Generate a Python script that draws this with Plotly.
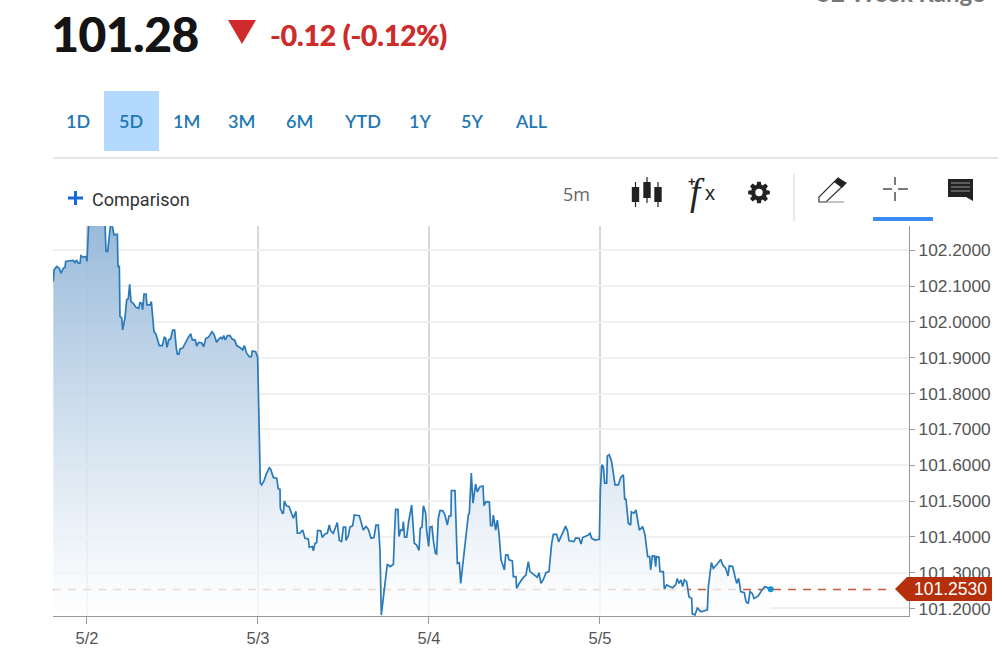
import math
import plotly.graph_objects as go

# Hours since the 5/2 tick, and prices
hours_d1 = [-4.73,-4.63,-4.26,-3.88,-3.65,-3.32,-3.09,-2.99,-2.39,-1.92,-1.68,-1.45,-1.22,-0.98,-0.84,-0.51,-0.14,0.0,0.23,0.3,1.5,2.4,2.53,2.67,2.90,3.13,3.32,3.56,3.79,4.26,4.35,4.54,4.63,4.87,5.01,5.33,5.57,5.80,5.99,6.18,6.50,6.88,7.25,7.44,7.67,7.81,8.00,8.28,8.42,8.84,9.03,9.22,9.40,9.68,10.15,10.57,10.85,11.04,11.23,11.46,11.74,12.02,12.30,12.54,12.68,12.91,13.05,13.43,13.75,14.22,14.55,14.78,15.20,15.39,15.67,16.09,16.37,16.65,17.12,17.54,17.82,18.20,18.43,18.76,18.99,19.18,19.42,19.70,20.07,20.40,20.72,21.01,21.47,21.85,22.08,22.41,22.78,23.06,23.20,23.67,23.95]
price_d1 = [102.113,102.145,102.155,102.150,102.136,102.150,102.152,102.169,102.171,102.172,102.166,102.173,102.164,102.164,102.185,102.181,102.183,102.169,102.271,102.30,102.33,102.31,102.275,102.197,102.197,102.234,102.275,102.267,102.243,102.245,102.155,102.155,102.015,102.012,101.978,102.011,102.062,102.065,102.105,102.057,102.052,102.041,102.038,102.054,102.052,102.034,102.078,102.078,102.048,102.048,102.057,102.015,101.973,101.966,101.934,101.934,101.957,101.955,101.929,101.950,101.953,101.977,101.977,101.927,101.910,101.910,101.925,101.927,101.941,101.957,101.967,101.950,101.950,101.933,101.943,101.942,101.931,101.953,101.959,101.973,101.966,101.943,101.950,101.957,101.953,101.962,101.950,101.962,101.962,101.952,101.950,101.934,101.929,101.922,101.934,101.913,101.903,101.903,101.919,101.917,101.901]

hours_d2 = [24.19,24.33,24.51,24.84,25.12,25.59,25.78,26.15,26.62,26.85,27.09,27.13,27.42,27.56,27.70,28.02,28.35,28.73,28.96,29.33,29.52,29.89,30.27,30.60,31.06,31.20,31.63,31.77,32.00,32.23,32.37,32.80,33.03,33.40,33.73,34.01,34.20,34.57,34.81,35.13,35.42,35.74,35.98,36.30,36.35,36.68,36.91,37.29,37.52,38.22,38.78,39.16,39.49,39.86,40.28,40.56,40.89,41.12,41.31,41.54,41.82,42.15,42.53,43.00,43.14,43.32,43.65,43.79,44.02,44.30,44.40,44.58,44.87,45.15,45.57,45.94,46.27,46.60,46.78,47.02,47.21,47.53,47.67,47.95]
price_d2 = [101.643,101.550,101.545,101.556,101.573,101.593,101.589,101.566,101.564,101.534,101.533,101.480,101.466,101.466,101.500,101.486,101.485,101.461,101.452,101.471,101.410,101.410,101.419,101.396,101.394,101.371,101.373,101.361,101.382,101.384,101.418,101.417,101.398,101.408,101.410,101.433,101.417,101.410,101.424,101.440,101.390,101.387,101.427,101.427,101.390,101.403,101.427,101.431,101.461,101.459,101.419,101.429,101.421,101.396,101.398,101.433,101.433,101.364,101.182,101.219,101.270,101.324,101.317,101.323,101.399,101.477,101.477,101.401,101.419,101.419,101.443,101.399,101.399,101.443,101.489,101.382,101.377,101.362,101.424,101.427,101.487,101.466,101.419,101.373]

hours_d3 = [48.14,48.42,48.61,48.89,49.07,49.31,49.54,49.92,50.25,50.57,50.81,51.09,51.14,51.65,51.98,52.26,52.45,52.82,53.01,53.52,53.66,53.94,54.17,54.55,54.78,55.16,55.58,55.72,56.00,56.47,56.65,56.89,57.03,57.36,57.59,57.82,58.11,58.58,58.77,59.05,59.23,59.70,59.84,60.21,60.30,60.63,61.15,61.61,61.94,62.18,62.64,63.20,63.44,63.72,64.05,64.42,64.84,64.98,65.22,65.45,65.92,66.20,66.62,66.95,67.18,67.46,67.65,68.35,68.59,69.06,69.34,69.57,70.37,70.60,70.83,71.30,71.91]
price_d3 = [101.427,101.429,101.391,101.354,101.352,101.452,101.473,101.473,101.461,101.433,101.458,101.459,101.529,101.529,101.326,101.328,101.270,101.336,101.364,101.461,101.466,101.578,101.494,101.547,101.526,101.540,101.542,101.487,101.498,101.497,101.431,101.431,101.461,101.419,101.447,101.410,101.336,101.308,101.350,101.350,101.336,101.333,101.289,101.289,101.256,101.269,101.284,101.294,101.331,101.303,101.296,101.287,101.300,101.270,101.281,101.300,101.303,101.340,101.382,101.407,101.407,101.386,101.405,101.417,101.430,101.415,101.389,101.387,101.397,101.396,101.380,101.398,101.405,101.410,101.396,101.391,101.393]

hours_d4 = [72.05,72.25,72.47,72.66,72.94,73.03,73.31,73.64,74.11,74.58,74.90,75.28,75.47,75.65,75.98,76.30,76.40,76.77,77.05,77.33,77.52,77.99,78.32,78.69,78.97,79.11,79.35,79.63,79.82,79.91,80.28,80.42,80.89,81.03,81.36,81.83,82.20,82.62,82.85,83.09,83.37,83.60,83.84,84.16,84.49,84.87,84.96,85.33,85.66,86.18,86.74,87.07,87.21,87.44,87.63,87.91,88.38,88.94,89.22,89.64,89.97,90.15,90.62,90.95,91.19,91.47,91.75,92.26,92.50,92.82,93.05,93.38,93.62,94.22,94.69,95.16,95.96]
price_d4 = [101.531,101.601,101.596,101.550,101.550,101.626,101.629,101.610,101.545,101.545,101.566,101.573,101.505,101.505,101.438,101.433,101.470,101.466,101.475,101.447,101.419,101.429,101.405,101.345,101.345,101.308,101.347,101.347,101.317,101.345,101.343,101.303,101.303,101.254,101.266,101.261,101.258,101.266,101.284,101.270,101.280,101.261,101.280,101.275,101.233,101.228,101.185,101.182,101.201,101.191,101.194,101.196,101.261,101.291,101.328,101.312,101.322,101.337,101.322,101.312,101.291,101.319,101.317,101.289,101.270,101.284,101.247,101.244,101.219,101.214,101.247,101.242,101.228,101.235,101.250,101.261,101.254]

hours = hours_d1 + hours_d2 + hours_d3 + hours_d4
prices = price_d1 + price_d2 + price_d3 + price_d4

tick_hours = [0, 24, 48, 72]
tick_labels = ["5/2", "5/3", "5/4", "5/5"]
y_ticks = [101.2, 101.3, 101.4, 101.5, 101.6, 101.7, 101.8, 101.9, 102.0, 102.1, 102.2]
last_close = 101.253
x_range = [-4.77, 115.37]
y_range = [101.179, 102.268]
guide_end_hour = 113.1

range_labels = ["1D", "5D", "1M", "3M", "6M", "YTD", "1Y", "5Y", "ALL"]
range_centers = [78, 131, 186, 241, 299, 362, 420, 472, 531]

L, R, T, B = 53, 909, 226, 616
def px(x): return (x - L) / (R - L)
def py(y): return (B - y) / (B - T)

fig = go.Figure()
fig.add_trace(go.Scatter(x=[x_range[0], guide_end_hour], y=[last_close, last_close], mode="lines",
                         line=dict(color="#c9583d", width=1.7, dash="8px,7px"), hoverinfo="skip", showlegend=False))
fig.add_trace(go.Scatter(x=hours, y=prices, mode="lines", fill="tozeroy",
                         line=dict(color="#2a7ab9", width=1.7),
                         fillgradient=dict(type="vertical", start=y_range[0], stop=y_range[1],
                                           colorscale=[[0, "rgba(255,255,255,0.78)"], [1, "rgba(150,184,217,0.97)"]]),
                         showlegend=False))
fig.add_trace(go.Scatter(x=[hours[-1]], y=[prices[-1]], mode="markers",
                         marker=dict(color="#1793d1", size=6), showlegend=False))

shapes = []
def rect(x0, y0, x1, y1, color):
    shapes.append(dict(type="rect", xref="paper", yref="paper", x0=px(x0), x1=px(x1), y0=py(y0), y1=py(y1),
                       fillcolor=color, line=dict(width=0), layer="above"))
def seg(x0, y0, x1, y1, color, width=1.0):
    shapes.append(dict(type="line", xref="paper", yref="paper", x0=px(x0), x1=px(x1), y0=py(y0), y1=py(y1),
                       line=dict(color=color, width=width), layer="above"))
def poly(points, fill=None, line=None, width=1.0):
    d = "M " + " L ".join(f"{px(a):.5f},{py(b):.5f}" for a, b in points) + " Z"
    shapes.append(dict(type="path", xref="paper", yref="paper", path=d,
                       fillcolor=fill if fill else "rgba(0,0,0,0)",
                       line=dict(color=line if line else "rgba(0,0,0,0)", width=width if line else 0), layer="above"))

rect(104, 91, 159, 151, "#b3d9ff")
seg(53, 158, 998, 158, "#dddddd", 1.5)
poly([(228, 20), (256, 20), (242, 44)], fill="#cf2b2b")
seg(68, 198, 83, 198, "#1a66d9", 3)
seg(75.5, 191, 75.5, 205, "#1a66d9", 3)
for cx, top, bt, wt, wb in [(635.5, 187, 202, 182, 207), (647, 182, 198, 177, 203), (658, 187, 202, 182, 207)]:
    seg(cx, wt, cx, wb, "#222222", 1.2)
    rect(cx - 3.7, top, cx + 3.7, bt, "#222222")
seg(794, 174, 794, 221, "#dddddd", 1.2)
poly([(819, 202), (819, 197), (838, 178), (846, 183), (826, 202)], line="#333333", width=1.2)
poly([(838, 178), (846, 183), (842, 188), (834, 182)], fill="#222222")
seg(826, 202, 844, 202, "#999999", 1.2)
for a in [(883, 189, 892, 189), (898, 189, 908, 189), (895, 177, 895, 185), (895, 192, 895, 201)]:
    seg(*a, "#333333", 1.3)
rect(873, 217, 933, 221, "#3b8cf2")
poly([(948, 179), (973, 179), (973, 201), (966, 197), (948, 197)], fill="#222222")
for yy in [183, 187, 191]:
    seg(951, yy, 970, yy, "#999999", 1)
poly([(895, 589), (907, 577), (992, 577), (992, 601), (907, 601)], fill="#b52f0b")

# settings cog
gcx, gcy = 759, 192.5
cog = []
for k in range(8):
    a = k * math.pi / 4
    for off, r in [(-0.30, 8.0), (-0.17, 11.0), (0.17, 11.0), (0.30, 8.0)]:
        cog.append((gcx + r * math.cos(a + off), gcy + r * math.sin(a + off)))
poly(cog, fill="#222222")
shapes.append(dict(type="circle", xref="paper", yref="paper", x0=px(gcx - 3.7), x1=px(gcx + 3.7),
                   y0=py(gcy + 3.7), y1=py(gcy - 3.7), fillcolor="white", line=dict(width=0), layer="above"))

def label(text, x, y, size, color, family="Lato", anchor="left", weight=None, style=None, shadow=None):
    f = dict(family=family, size=size, color=color)
    if weight: f["weight"] = weight
    if style: f["style"] = style
    if shadow: f["shadow"] = shadow
    fig.add_annotation(text=text, xref="paper", yref="paper", x=px(x), y=py(y), showarrow=False,
                       xanchor=anchor, yanchor="middle", font=f, borderpad=0, borderwidth=0)

label("101.28", 51, 34, 47, "#141414", weight=700, shadow="1px 0 0 #141414")
label("-0.12 (-0.12%)", 270, 35, 28, "#cf2b2b", weight=700, shadow="0.6px 0 0 #cf2b2b")
label("52 Week Range", 985, -7, 24, "#777777", anchor="right", weight=700)
for t, c in zip(range_labels, range_centers):
    label(t, c, 120.5, 18, "#2277b3", anchor="center", weight=600)
label("Comparison", 92, 199, 18, "#333333", family="Roboto")
label("5m", 576, 194, 18, "#666666", anchor="center", family="Open Sans")
label("+", 692, 181, 13, "#222222", anchor="center", family="Liberation Sans", weight=700)
label("f", 697, 192, 37, "#222222", anchor="center", family="Liberation Serif", style="italic")
label("x", 710, 193, 20, "#222222", anchor="center", family="Liberation Sans")
label(f"{last_close:.4f}", 950, 589, 17.5, "#ffffff", anchor="center", family="Liberation Sans")

fig.update_layout(
    width=1002, height=671, margin=dict(l=L, r=1002 - R, t=T, b=671 - B),
    paper_bgcolor="white", plot_bgcolor="white", showlegend=False, shapes=shapes,
    xaxis=dict(range=x_range, tickmode="array", tickvals=tick_hours, ticktext=tick_labels,
               showgrid=True, gridcolor="#d8d8d8", gridwidth=2, zeroline=False,
               showline=True, linecolor="#999999", linewidth=1.3, ticks="outside", ticklen=7,
               tickcolor="#999999", tickfont=dict(family="Liberation Sans", size=16.5, color="#555555")),
    yaxis=dict(range=y_range, side="right", tickmode="array", tickvals=y_ticks, tickformat=".4f",
               showgrid=True, gridcolor="#f0f0f0", gridwidth=2, zeroline=False,
               showline=True, linecolor="#999999", linewidth=1.3, ticks="outside", ticklen=5,
               tickcolor="#999999", tickfont=dict(family="Liberation Sans", size=17.3, color="#555555")),
)

fig.write_html("out.html", config={"displayModeBar": False},
               post_script="document.body.style.margin='0';document.documentElement.style.overflow='hidden';")
